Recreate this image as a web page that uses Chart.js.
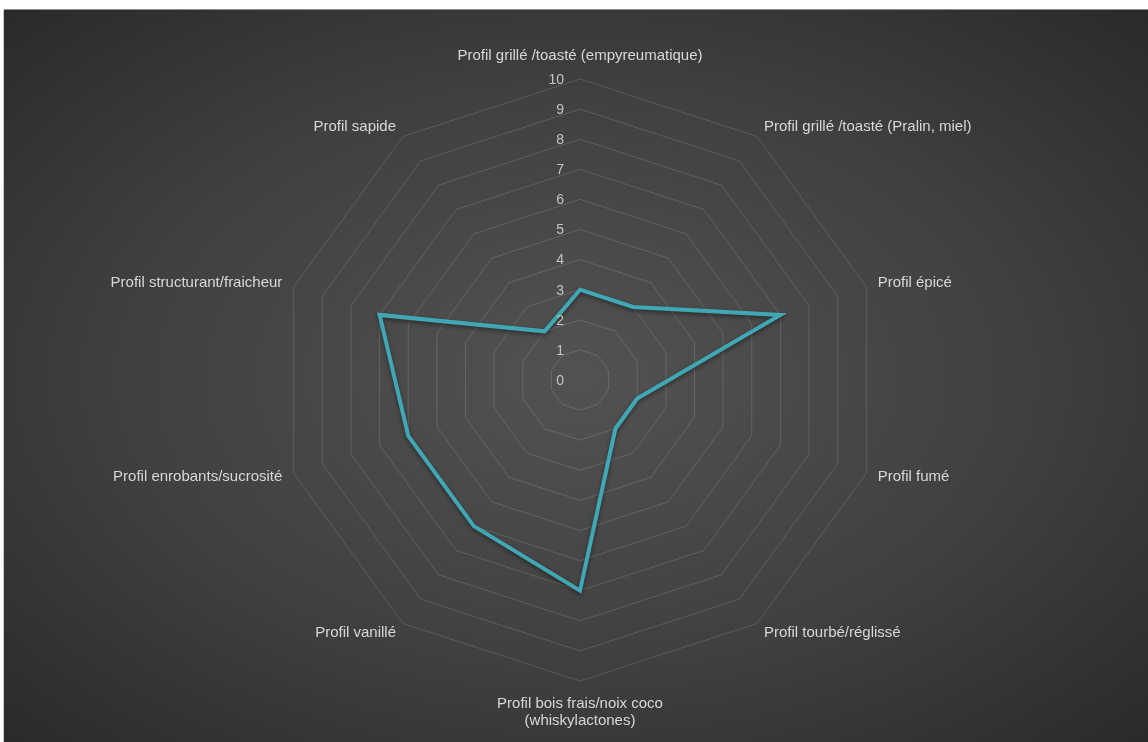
<!DOCTYPE html>
<html lang="fr">
<head>
<meta charset="UTF-8">
<title>Profil aromatique</title>
<script src="https://cdn.jsdelivr.net/npm/chart.js"></script>
<style>
  html, body { margin: 0; padding: 0; background: #fff; }
  .frame {
    position: absolute; left: 4px; top: 10px; width: 1144px; height: 732px;
    background: radial-gradient(ellipse at 50% 50%, #525252 0%, #404040 55%, #2a2a2a 100%);
    box-shadow: 0 -1px 0 #8c8c8c, -1px 0 0 #c8c8c8;
  }
</style>
</head>
<body>
<div class="frame"><canvas id="profil"></canvas></div>
<script>
const categories = [
  'Profil grillé /toasté (empyreumatique)',
  'Profil grillé /toasté (Pralin, miel)',
  'Profil épicé',
  'Profil fumé',
  'Profil tourbé/réglissé',
  ['Profil bois frais/noix coco', '(whiskylactones)'],
  'Profil vanillé',
  'Profil enrobants/sucrosité',
  'Profil structurant/fraicheur',
  'Profil sapide'
];
const values = [3, 3, 7, 2, 2, 7, 6, 6, 7, 2];
const scaleMin = 0;
const scaleMax = 10;
const scaleStep = 1;

const labelFont = '15px "Liberation Sans", Arial, sans-serif';
const tickFont = '14px "Liberation Sans", Arial, sans-serif';

// shadow under the line
const lineShadow = {
  id: 'lineShadow',
  beforeDatasetDraw(chart) {
    const c = chart.ctx;
    c.save();
    c.shadowColor = 'rgba(0,0,0,0.45)';
    c.shadowBlur = 4;
    c.shadowOffsetY = 2;
  },
  afterDatasetDraw(chart) {
    chart.ctx.restore();
  }
};

// tick numbers left of the vertical axis, category labels around the web
const radarText = {
  id: 'radarText',
  afterDraw(chart) {
    const r = chart.scales.r;
    const c = chart.ctx;
    c.save();

    c.font = tickFont;
    c.fillStyle = '#c4c4c4';
    c.textAlign = 'right';
    c.textBaseline = 'middle';
    r.ticks.forEach(t => {
      const d = r.getDistanceFromCenterForValue(t.value);
      c.fillText(String(t.value), r.xCenter - 16, r.yCenter - d + 1);
    });

    c.font = labelFont;
    c.fillStyle = '#d8d8d8';
    const n = categories.length;
    categories.forEach((lab, i) => {
      const lines = Array.isArray(lab) ? lab : [lab];
      const deg = i * 360 / n;
      const p = r.getPointPosition(i, r.drawingArea + 12);
      const lh = 17;
      let y0;
      if (deg === 0) {
        c.textAlign = 'center';
        y0 = p.y - 11 - (lines.length - 1) * lh;
      } else if (deg === 180) {
        c.textAlign = 'center';
        y0 = p.y + 11;
      } else {
        c.textAlign = deg < 180 ? 'left' : 'right';
        y0 = p.y - (lines.length - 1) * lh / 2;
      }
      lines.forEach((ln, k) => c.fillText(ln, p.x, y0 + k * lh));
    });
    c.restore();
  }
};

new Chart(document.getElementById('profil'), {
  type: 'radar',
  data: {
    labels: categories,
    datasets: [{
      data: values,
      borderColor: '#40a7b5',
      borderWidth: 4,
      fill: false,
      pointRadius: 0,
      pointHoverRadius: 0
    }]
  },
  options: {
    responsive: true,
    maintainAspectRatio: false,
    animation: false,
    layout: { padding: { top: 69, bottom: 61, left: 200, right: 192 } },
    plugins: {
      legend: { display: false },
      tooltip: { enabled: false }
    },
    scales: {
      r: {
        min: scaleMin,
        max: scaleMax,
        ticks: { display: false, stepSize: scaleStep },
        grid: { color: 'rgba(255,255,255,0.14)', lineWidth: 1 },
        angleLines: { display: false },
        pointLabels: { display: false }
      }
    }
  },
  plugins: [lineShadow, radarText]
});
</script>
</body>
</html>
